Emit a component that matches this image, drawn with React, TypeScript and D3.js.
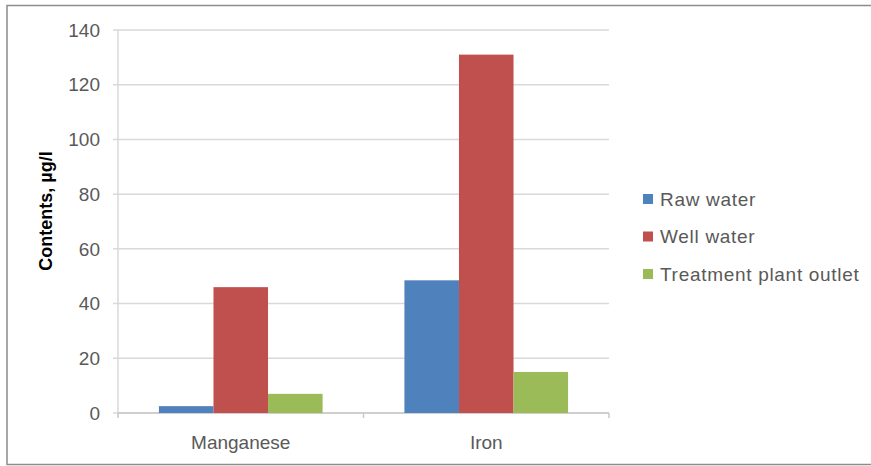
import * as d3 from 'd3';

const categories = ['Manganese', 'Iron'];
const seriesNames = ['Raw water', 'Well water', 'Treatment plant outlet'];
const rawWater = [2.5, 48.5];
const wellWater = [46, 131];
const plantOutlet = [7, 15];
const yTicks = [0, 20, 40, 60, 80, 100, 120, 140];

const colors = ['#4f81bd', '#c0504d', '#9bbb59'];

export default function App() {
  const W = 871, H = 466;
  const left = 118, right = 609, top = 30, bottom = 413;
  const font = '"Liberation Sans", Arial, sans-serif';

  const x = d3.scaleBand().domain(categories).range([left, right]);
  // excel gap width 150% -> 3 bars + 1.5 bar gap
  const barW = x.bandwidth() / 4.5;
  const y = d3.scaleLinear().domain([0, 140]).range([bottom, top]);
  const series = [rawWater, wellWater, plantOutlet];

  return (
    <svg width={W} height={H} style={{ position: 'absolute', left: 0, top: 0, background: '#fff' }}>
      <rect x={7} y={5.5} width={W + 10} height={459} fill="#fff" stroke="#8c8c8c" strokeWidth={1.5} />
      {yTicks.map(t => (
        <g key={t}>
          <line x1={left - 5} x2={right} y1={y(t)} y2={y(t)} stroke="#d9d9d9" strokeWidth={1.5} />
          <text x={left - 18} y={y(t)} dy="0.35em" textAnchor="end" fontFamily={font} fontSize={19} fill="#595959">{t}</text>
        </g>
      ))}
      <line x1={left} x2={left} y1={top} y2={bottom} stroke="#d9d9d9" strokeWidth={1.5} />
      <line x1={left} x2={right} y1={bottom} y2={bottom} stroke="#c8c8c8" strokeWidth={1.5} />
      {[left, left + x.step(), right].map((px, i) => (
        <line key={i} x1={px} x2={px} y1={bottom} y2={bottom + 5} stroke="#c8c8c8" strokeWidth={1.5} />
      ))}
      {categories.map((c, ci) => (
        <g key={c}>
          {series.map((s, si) => {
            const bx = (x(c) as number) + barW * 0.75 + si * barW;
            return <rect key={si} x={bx} y={y(s[ci])} width={barW} height={bottom - y(s[ci])} fill={colors[si]} />;
          })}
          <text x={(x(c) as number) + x.bandwidth() / 2} y={442} dy="0.35em" textAnchor="middle" fontFamily={font} fontSize={19} fill="#595959">{c}</text>
        </g>
      ))}
      <text transform={`translate(46,211) rotate(-90)`} textAnchor="middle" dy="0.35em" fontFamily={font} fontSize={18} fontWeight="bold" fill="#000">Contents, µg/l</text>
      {seriesNames.map((n, i) => (
        <g key={n} transform={`translate(643,${199 + i * 37.5})`}>
          <rect x={0} y={-5} width={10} height={10} fill={colors[i]} />
          <text x={17} y={0} dy="0.35em" fontFamily={font} fontSize={19} letterSpacing={0.7} fill="#595959">{n}</text>
        </g>
      ))}
    </svg>
  );
}
